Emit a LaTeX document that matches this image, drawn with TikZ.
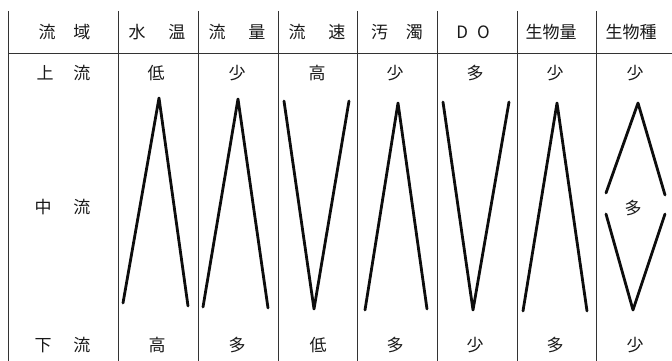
\documentclass[tikz,border=0pt]{standalone}
\usepackage{fontspec}
\setmainfont{Noto Sans CJK JP}
\begin{document}
\begin{tikzpicture}[x=1pt,y=-1pt,
  grid/.style={draw=black!80,line width=0.9pt},
  trend/.style={draw=black!95,line width=2.8pt,line cap=round,line join=round},
  lbl/.style={font=\fontsize{17}{17}\selectfont,text=black!90,inner sep=0pt,anchor=center}]
\useasboundingbox (0,0) rectangle (672,361);
% grid
\foreach \x in {8,118,198,278,357,437,517,596}
  \draw[grid] (\x,11) -- (\x,361);
\draw[grid] (8,53) -- (672,53);
% header
\node[lbl] (h1) at (64.5,32) {流\hspace{18pt}域};
\node[lbl] (h2) at (157,32) {水\hspace{23pt}温};
\node[lbl] (h3) at (237,32) {流\hspace{23pt}量};
\node[lbl] (h4) at (317,32) {流\hspace{23pt}速};
\node[lbl] (h5) at (397,32) {汚\hspace{18pt}濁};
\node[lbl] (h6) at (473,32) {D\hspace{9pt}O};
\node[lbl] (h7) at (551,32) {生物量};
\node[lbl] (h8) at (631,32) {生物種};
% row labels
\node[lbl] (r1) at (63.5,73) {上\hspace{20pt}流};
\node[lbl] (r2) at (62.5,207) {中\hspace{22pt}流};
\node[lbl] (r3) at (62.5,345) {下\hspace{22pt}流};
% top values
\node[lbl] (t1) at (156,73) {低};
\node[lbl] (t2) at (237,73) {少};
\node[lbl] (t3) at (317,73) {高};
\node[lbl] (t4) at (395,73) {少};
\node[lbl] (t5) at (475,73) {多};
\node[lbl] (t6) at (555,73) {少};
\node[lbl] (t7) at (635,73) {少};
% bottom values
\node[lbl] (b1) at (157,345) {高};
\node[lbl] (b2) at (237,345) {多};
\node[lbl] (b3) at (318,345) {低};
\node[lbl] (b4) at (395,345) {多};
\node[lbl] (b5) at (475,345) {少};
\node[lbl] (b6) at (555,345) {多};
\node[lbl] (b7) at (635,345) {少};
\node[lbl] (m7) at (633,208) {多};
% trend lines
\draw[trend] (123,303) -- (159,98) -- (188,306);
\draw[trend] (203,307) -- (238,99) -- (268,308);
\draw[trend] (284,101) -- (314,309) -- (349,101);
\draw[trend] (365,310) -- (398,103) -- (427,309);
\draw[trend] (443,102) -- (473,310) -- (509,102);
\draw[trend] (523,311) -- (557,103) -- (587,311);
\draw[trend] (606,193) -- (638,103) -- (665,195);
\draw[trend] (606,214) -- (633,310) -- (665,214);
\end{tikzpicture}
\end{document}
